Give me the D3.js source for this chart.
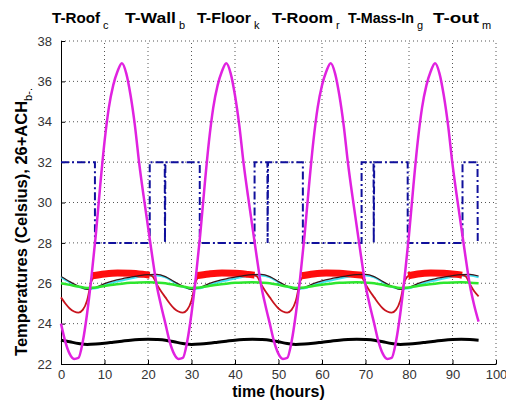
<!DOCTYPE html>
<html>
<head>
<meta charset="utf-8">
<script src="https://cdn.jsdelivr.net/npm/d3@7"></script>
<style>
body { margin: 0; background: #fff; }
text { font-family: "Liberation Sans", Arial, sans-serif; }
</style>
</head>
<body>
<div id="my_viz"></div>
<script>
// ---- data ----
const xTicks = [0, 10, 20, 30, 40, 50, 60, 70, 80, 90, 100]
const yTicks = [22, 24, 26, 28, 30, 32, 34, 36, 38]

const titleNames = ["T-Roof", "T-Wall", "T-Floor", "T-Room", "T-Mass-In", "T-out"]
const titleSubs = ["c", "b", "k", "r", "g", "m"]

// hourly samples, 0..96 h
const hoursFine = d3.range(0, 97)
const tOut = [
 24.0, 23.1, 22.5, 22.25, 22.3, 23.1, 24.5, 26.3, 28.4, 30.8, 33.0, 34.7, 35.8, 36.5, 36.9, 36.4, 35.3, 33.8, 31.9, 30.3, 28.8, 27.3, 25.9, 24.9,
 24.0, 23.1, 22.5, 22.25, 22.3, 23.1, 24.5, 26.3, 28.4, 30.8, 33.0, 34.7, 35.8, 36.5, 36.9, 36.4, 35.3, 33.8, 31.9, 30.3, 28.8, 27.3, 25.9, 24.9,
 24.0, 23.1, 22.5, 22.25, 22.3, 23.1, 24.5, 26.3, 28.4, 30.8, 33.0, 34.7, 35.8, 36.5, 36.9, 36.4, 35.3, 33.8, 31.9, 30.3, 28.8, 27.3, 25.9, 24.9,
 24.0, 23.1, 22.5, 22.25, 22.3, 23.1, 24.5, 26.3, 28.4, 30.8, 33.0, 34.7, 35.8, 36.5, 36.9, 36.4, 35.3, 33.8, 31.9, 30.3, 28.8, 27.3, 25.9, 24.9,
 24.1]
const tRoomThin = [
 25.3, 25.0, 24.75, 24.6, 24.54, 24.68, 25.15, 26.1, 26.38, 26.42, 26.45, 26.47, 26.49, 26.5, 26.5, 26.49, 26.47, 26.45, 26.43, 26.42, 26.41, 26.35, 25.95, 25.6,
 25.3, 25.0, 24.75, 24.6, 24.54, 24.68, 25.15, 26.1, 26.38, 26.42, 26.45, 26.47, 26.49, 26.5, 26.5, 26.49, 26.47, 26.45, 26.43, 26.42, 26.41, 26.35, 25.95, 25.6,
 25.3, 25.0, 24.75, 24.6, 24.54, 24.68, 25.15, 26.1, 26.38, 26.42, 26.45, 26.47, 26.49, 26.5, 26.5, 26.49, 26.47, 26.45, 26.43, 26.42, 26.41, 26.35, 25.95, 25.6,
 25.3, 25.0, 24.75, 24.6, 24.54, 24.68, 25.15, 26.1, 26.38, 26.42, 26.45, 26.47, 26.49, 26.5, 26.5, 26.49, 26.47, 26.45, 26.43, 26.42, 26.41, 26.35, 25.95, 25.6,
 25.35]

// two-hourly samples, 0..96 h
const hoursCoarse = d3.range(0, 97, 2)
const tRoof = [
 26.3, 26.04, 25.82, 25.72, 25.75, 25.92, 26.04, 26.14, 26.24, 26.32, 26.37, 26.38,
 26.3, 26.04, 25.82, 25.72, 25.75, 25.92, 26.04, 26.14, 26.24, 26.32, 26.37, 26.38,
 26.3, 26.04, 25.82, 25.72, 25.75, 25.92, 26.04, 26.14, 26.24, 26.32, 26.37, 26.38,
 26.3, 26.04, 25.82, 25.72, 25.75, 25.92, 26.04, 26.14, 26.24, 26.32, 26.37, 26.38,
 26.3]
const tWall = [
 26.33, 26.08, 25.86, 25.7, 25.8, 25.98, 26.12, 26.22, 26.3, 26.38, 26.43, 26.44,
 26.33, 26.08, 25.86, 25.7, 25.8, 25.98, 26.12, 26.22, 26.3, 26.38, 26.43, 26.44,
 26.33, 26.08, 25.86, 25.7, 25.8, 25.98, 26.12, 26.22, 26.3, 26.38, 26.43, 26.44,
 26.33, 26.08, 25.86, 25.7, 25.8, 25.98, 26.12, 26.22, 26.3, 26.38, 26.43, 26.44,
 26.36]
const tMassIn = [
 26.0, 25.92, 25.84, 25.77, 25.79, 25.86, 25.93, 25.98, 26.02, 26.04, 26.05, 26.03,
 26.0, 25.92, 25.84, 25.77, 25.79, 25.86, 25.93, 25.98, 26.02, 26.04, 26.05, 26.03,
 26.0, 25.92, 25.84, 25.77, 25.79, 25.86, 25.93, 25.98, 26.02, 26.04, 26.05, 26.03,
 26.0, 25.92, 25.84, 25.77, 25.79, 25.86, 25.93, 25.98, 26.02, 26.04, 26.05, 26.03,
 26.0]
const tFloor = [
 23.18, 23.1, 23.02, 22.97, 22.99, 23.03, 23.08, 23.13, 23.18, 23.21, 23.22, 23.21,
 23.18, 23.1, 23.02, 22.97, 22.99, 23.03, 23.08, 23.13, 23.18, 23.21, 23.22, 23.21,
 23.18, 23.1, 23.02, 22.97, 22.99, 23.03, 23.08, 23.13, 23.18, 23.21, 23.22, 23.21,
 23.18, 23.1, 23.02, 22.97, 22.99, 23.03, 23.08, 23.13, 23.18, 23.21, 23.22, 23.21,
 23.18]

// thick red room segments (null splits the days)
const bandHours = [7.2, 10, 13, 16, 19, 20.4, null,
 31.0, 34, 37, 40, 43, 44.5, null,
 55.3, 58, 61, 64, 67, 69.4, null,
 79.8, 82, 85, 88, 91, 92.2]
const bandTemps = [26.37, 26.46, 26.51, 26.5, 26.44, 26.4, null,
 26.37, 26.46, 26.51, 26.5, 26.44, 26.4, null,
 26.37, 26.46, 26.51, 26.5, 26.44, 26.4, null,
 26.37, 26.46, 26.51, 26.5, 26.44, 26.4]

// 26 + ACH step signal
const achHours = [0, 7.8, 7.8, 20.4, 20.4, 23.85, 23.9, 24.0,
 31.9, 31.9, 44.5, 44.5, 47.45, 47.5, 47.6,
 55.6, 55.6, 69.1, 69.1, 71.85, 71.9, 72.0,
 79.7, 79.7, 92.3, 92.3, 95.75, 95.8]
const achValues = [32, 32, 28, 28, 32, 32, 28, 32,
 32, 28, 28, 32, 32, 28, 32,
 32, 28, 28, 32, 32, 28, 32,
 32, 28, 28, 32, 32, 28]

// ---- layout ----
const width = 506
const height = 405
const margin = {top: 41, right: 10, bottom: 41, left: 61}

var svg = d3.select("#my_viz")
.append("svg")
.attr("width", width)
.attr("height", height)

var xScale = d3.scaleLinear().domain([0, 100]).range([margin.left, 496])
var yScale = d3.scaleLinear().domain([22, 38]).range([height - margin.bottom, margin.top])

// dotted grid
svg.append("g")
.selectAll("line")
.data(xTicks.slice(1))
.enter()
.append("line")
.attr("x1", d => xScale(d)).attr("x2", d => xScale(d))
.attr("y1", yScale(22)).attr("y2", yScale(38))
.attr("stroke", "#555").attr("stroke-dasharray", "1,3")

svg.append("g")
.selectAll("line")
.data(yTicks.slice(1))
.enter()
.append("line")
.attr("x1", xScale(0)).attr("x2", xScale(100))
.attr("y1", d => yScale(d)).attr("y2", d => yScale(d))
.attr("stroke", "#555").attr("stroke-dasharray", "1,3")

// axes, ticks pointing inward
var xAxis = svg.append("g")
.attr("transform", "translate(0," + yScale(22) + ")")
.call(d3.axisBottom(xScale).tickValues(xTicks).tickSizeInner(-4).tickSizeOuter(0).tickPadding(6))
var yAxis = svg.append("g")
.attr("transform", "translate(" + xScale(0) + ",0)")
.call(d3.axisLeft(yScale).tickValues(yTicks).tickSizeInner(-4).tickSizeOuter(0).tickPadding(9))
svg.selectAll(".tick text").style("font-size", "13px").attr("fill", "#333")
svg.selectAll(".domain").attr("stroke", "#000")

// series
const pairs = (xs, ys) => xs.map((t, i) => [t, ys[i]])
var line = d3.line()
.defined(d => d[0] !== null)
.x(d => xScale(d[0]))
.y(d => yScale(d[1]))
.curve(d3.curveMonotoneX)

function drawLine(xs, ys, color, w, dash) {
	var p = svg.append("path")
	.attr("d", line(pairs(xs, ys)))
	.attr("fill", "none")
	.attr("stroke", color)
	.attr("stroke-width", w)
	.attr("stroke-linejoin", "round")
	if (dash) p.attr("stroke-dasharray", dash)
	return p
}

drawLine(hoursCoarse, tRoof, "#3fe3f2", 2)
drawLine(hoursCoarse, tFloor, "#000", 3)
drawLine(hoursFine, tRoomThin, "#c8141e", 1.8)
drawLine(bandHours, bandTemps, "#ff0d0d", 7).attr("stroke-linejoin", "miter")
drawLine(hoursCoarse, tWall, "#3a1518", 1.2)
drawLine(hoursCoarse, tMassIn, "#2ee62e", 2.5)

// step line for ACH
var stepLine = d3.line()
.x(d => xScale(d[0]))
.y(d => yScale(d[1]))
svg.append("path")
.attr("d", stepLine(pairs(achHours, achValues)))
.attr("fill", "none")
.attr("stroke", "#10109c")
.attr("stroke-width", 2)
.attr("stroke-dasharray", "8,3,2,3")

drawLine(hoursFine, tOut, "#e022e0", 2.5)

// title with subscripts (names and subscripts as separate texts)
const titleX = [52, 125, 197, 272, 348, 433]
const titleW = [48, 51, 54, 61, 66, 46]
titleNames.forEach((name, i) => {
	svg.append("text")
	.attr("x", titleX[i])
	.attr("y", 23)
	.attr("textLength", titleW[i])
	.attr("lengthAdjust", "spacingAndGlyphs")
	.style("font-size", "14.5px")
	.style("font-weight", "bold")
	.attr("fill", "#000")
	.text(name)
	svg.append("text")
	.attr("x", titleX[i] + titleW[i] + 3)
	.attr("y", 29)
	.style("font-size", "11px")
	.attr("fill", "#000")
	.text(titleSubs[i])
})

// axis labels
svg.append("text")
.attr("x", (xScale(0) + xScale(100)) / 2)
.attr("y", 397)
.attr("text-anchor", "middle")
.style("font-size", "16px")
.style("font-weight", "bold")
.text("time (hours)")

var yl = svg.append("text")
.attr("transform", "translate(27,222) rotate(-90)")
.attr("text-anchor", "middle")
.style("font-size", "16.5px")
.style("font-weight", "bold")
yl.append("tspan").text("Temperatures (Celsius), 26+ACH")
yl.append("tspan").attr("dy", 5).style("font-size", "11px").style("font-weight", "normal").text("b-.")
</script>
</body>
</html>
